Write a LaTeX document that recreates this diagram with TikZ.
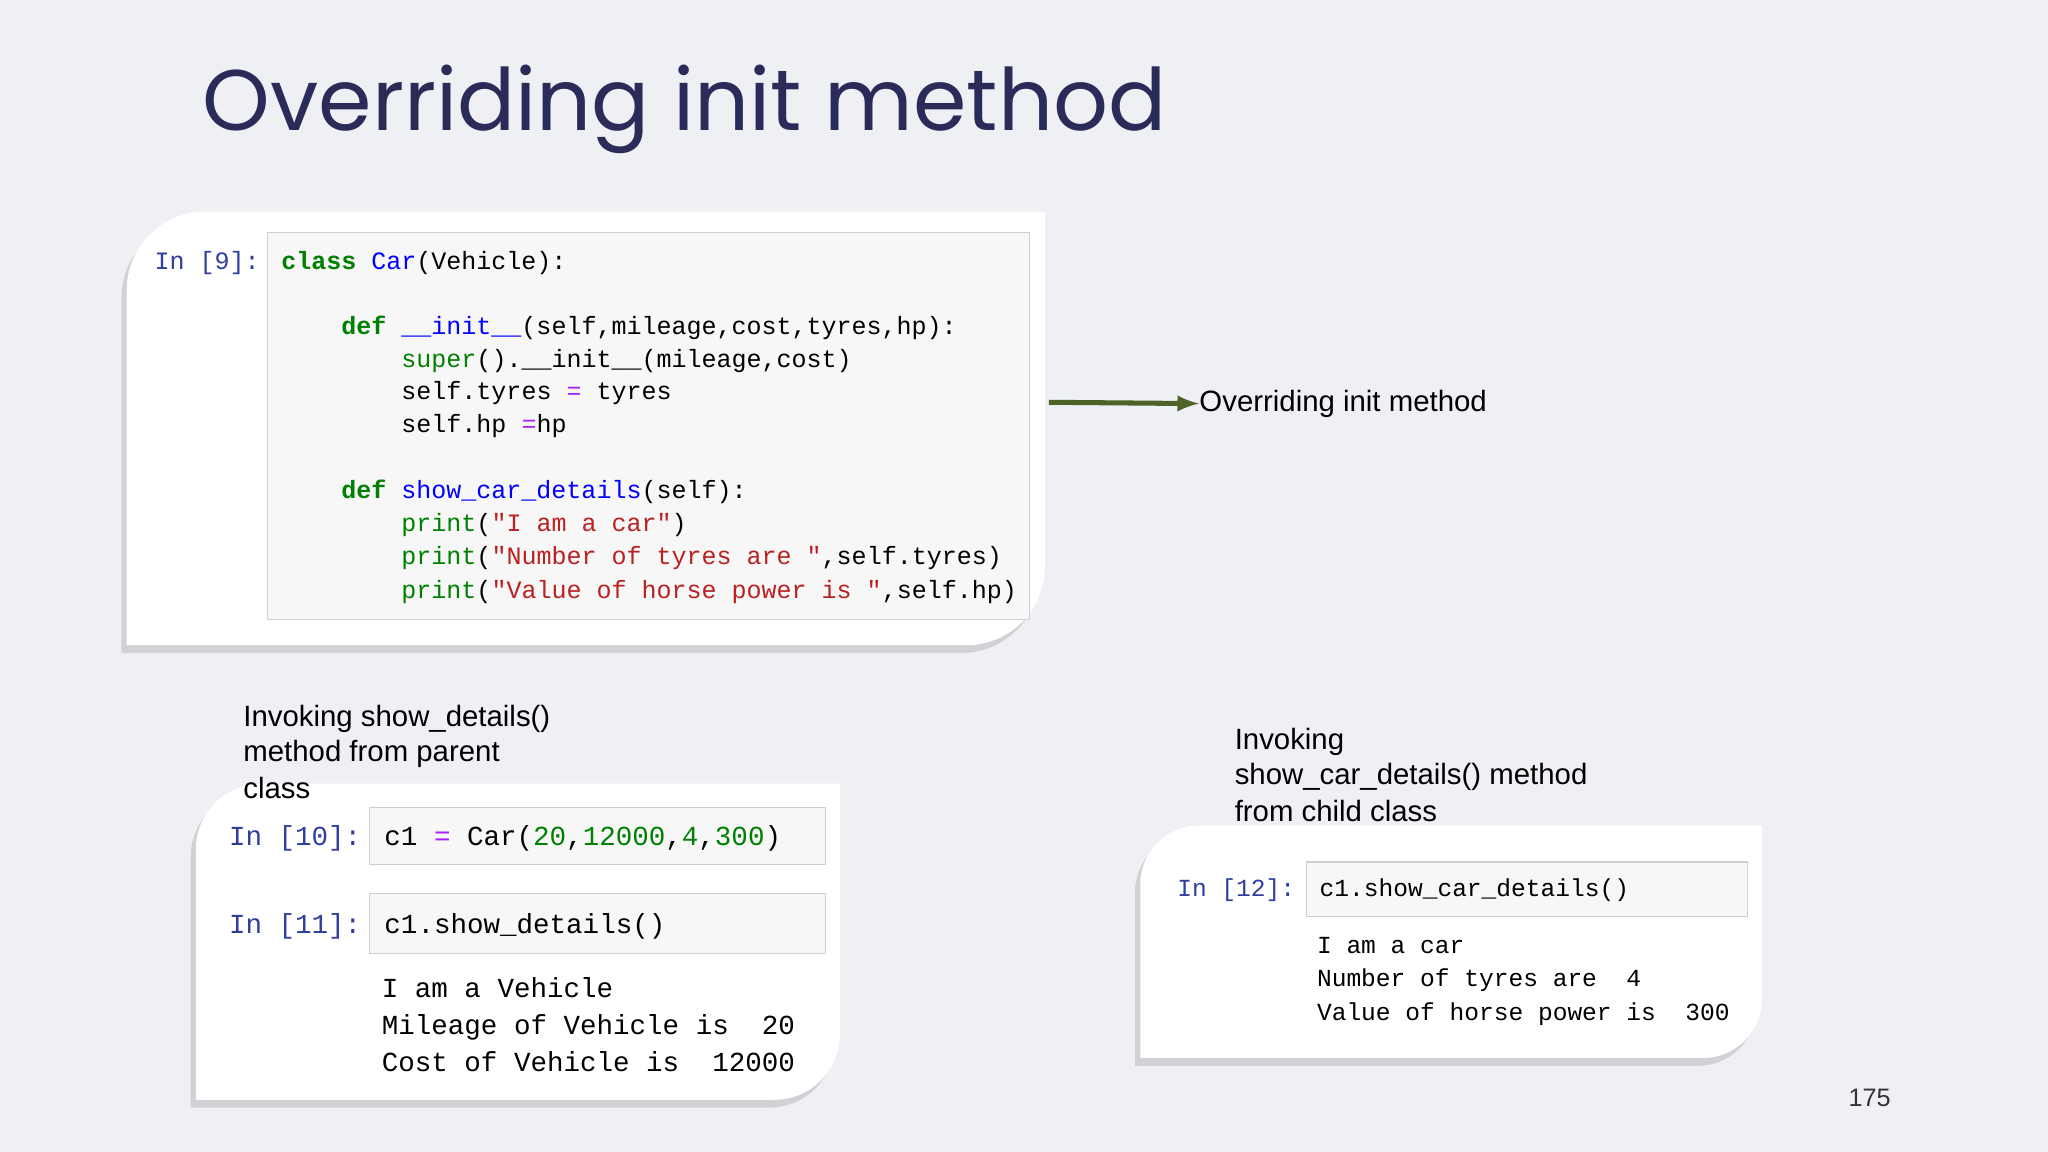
\documentclass[tikz,border=0pt]{standalone}
\usepackage{fontspec}
\setmainfont{Liberation Sans}
\newfontfamily\titlefont{Poppins}
\newfontfamily\code{Liberation Mono}
\definecolor{bg}{HTML}{EEF0F4}
\definecolor{ttl}{HTML}{2B2B5A}
\definecolor{kw}{HTML}{008000}
\definecolor{nm}{HTML}{0000FF}
\definecolor{st}{HTML}{BA2121}
\definecolor{op}{HTML}{AA22FF}
\definecolor{pr}{HTML}{303F9F}
\definecolor{cellbg}{HTML}{F7F7F7}
\definecolor{cellbd}{HTML}{CFCFCF}
\definecolor{arr}{HTML}{4F6228}
\tikzset{x=0.02cm,y=-0.02cm,
 cl/.style={anchor=base west,inner sep=0,font=\code\fontsize{10.9pt}{12pt}\selectfont},
 cl2/.style={anchor=base west,inner sep=0,font=\code\fontsize{12.0pt}{14pt}\selectfont},
 cl3/.style={anchor=base west,inner sep=0,font=\code\fontsize{10.7pt}{12pt}\selectfont},
 lbl/.style={anchor=base west,inner sep=0,font=\fontsize{12.8pt}{15pt}\selectfont},
 cell/.style={fill=cellbg,draw=cellbd,line width=0.5pt}}
\newcommand{\panelshape}[5]{(#1,#2+#5) -- (#1,#4) -- (#3-#5,#4) .. controls (#3-0.45*#5,#4) and (#3,#4-0.45*#5) .. (#3,#4-#5) -- (#3,#2) -- (#1+#5,#2) .. controls (#1+0.45*#5,#2) and (#1,#2+0.45*#5) .. cycle}
\newcommand{\panel}[5]{%
 \fill[black,opacity=0.12,shift={(-4,6)}] \panelshape{#1}{#2}{#3}{#4}{#5};
 \fill[white] \panelshape{#1}{#2}{#3}{#4}{#5};}
\begin{document}
\begin{tikzpicture}
\fill[bg] (0,0) rectangle (1568,882);
\useasboundingbox (0,0) rectangle (1568,882);
\node[anchor=base west,inner sep=0,text=ttl,font=\titlefont\fontsize{37.5pt}{44pt}\selectfont] (title) at (155,100) {Overriding init method};
% panel 1
\panel{97}{162}{800}{494}{60}
\draw[cell] (205,178) rectangle (788,474);
\node[cl,text=pr] (p9) at (118,206) {In [9]:};
\node[cl] (l1) at (215,206) {\textcolor{kw}{\textbf{class}} \textcolor{nm}{Car}(Vehicle):};
\node[cl] (l2) at (261,256) {\textcolor{kw}{\textbf{def}} \textcolor{nm}{\_\_init\_\_}(self,mileage,cost,tyres,hp):};
\node[cl] (l3) at (307,281) {\textcolor{kw}{super}().\_\_init\_\_(mileage,cost)};
\node[cl] (l4) at (307,306) {self.tyres \textcolor{op}{=} tyres};
\node[cl] (l5) at (307,331) {self.hp \textcolor{op}{=}hp};
\node[cl] (l6) at (261,382) {\textcolor{kw}{\textbf{def}} \textcolor{nm}{show\_car\_details}(self):};
\node[cl] (l7) at (307,407) {\textcolor{kw}{print}(\textcolor{st}{"I am a car"})};
\node[cl] (l8) at (307,432) {\textcolor{kw}{print}(\textcolor{st}{"Number of tyres are "},self.tyres)};
\node[cl] (l9) at (307,458) {\textcolor{kw}{print}(\textcolor{st}{"Value of horse power is "},self.hp)};
\coordinate (a1) at (803,308);
\node[lbl,anchor=west] (ovl) at (918,309) {Overriding init method};
\draw[arr,line width=2.2pt,-latex] (a1) -- (ovl.west);
% panel 2
\panel{150}{600}{643}{842}{50}
\node[lbl] (inv1) at (186,556) {Invoking show\_details()};
\node[lbl] (inv1b) at (186,583) {method from parent};
\node[lbl] (inv1c) at (186,611) {class};
\draw[cell] (283,618) rectangle (632,662);
\draw[cell] (283,684) rectangle (632,730);
\node[cl2,text=pr] (p10) at (175,647) {In [10]:};
\node[cl2] (c10) at (294,647) {c1 \textcolor{op}{=} Car(\textcolor{kw}{20},\textcolor{kw}{12000},\textcolor{kw}{4},\textcolor{kw}{300})};
\node[cl2,text=pr] (p11) at (175,715) {In [11]:};
\node[cl2] (c11) at (294,715) {c1.show\_details()};
\node[cl2] (o1) at (292,764) {I am a Vehicle};
\node[cl2] (o2) at (292,792) {Mileage of Vehicle is\ \ 20};
\node[cl2] (o3) at (292,820) {Cost of Vehicle is\ \ 12000};
% panel 3
\node[lbl] (inv2) at (945,574) {Invoking};
\node[lbl] (inv2b) at (945,601) {show\_car\_details() method};
\node[lbl] (inv2c) at (945,629) {from child class};
\panel{873}{632}{1349}{810}{45}
\draw[cell] (1000,660) rectangle (1338,702);
\node[cl3,text=pr] (p12) at (901,686) {In [12]:};
\node[cl3] (c12) at (1010,686) {c1.show\_car\_details()};
\node[cl3] (q1) at (1008,730) {I am a car};
\node[cl3] (q2) at (1008,755) {Number of tyres are\ \ 4};
\node[cl3] (q3) at (1008,781) {Value of horse power is\ \ 300};
\node[anchor=base west,inner sep=0,font=\fontsize{11pt}{13pt}\selectfont,text=black!80] (pg) at (1415,847) {175};
\end{tikzpicture}
\end{document}
